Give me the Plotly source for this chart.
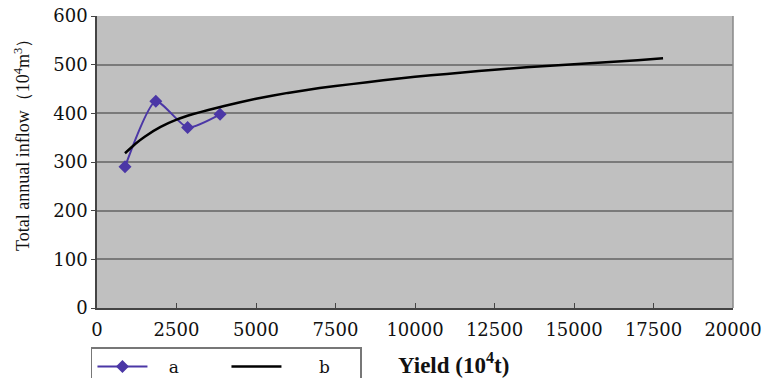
import plotly.graph_objects as go

# Series a: observed points
a_x = [880, 1850, 2850, 3870]
a_y = [290, 425, 371, 398]

# Series b: fitted curve
b_x = [880, 1200, 1500, 2000, 2500, 3000, 3500, 4000, 5000, 6000, 7000, 8000,
       9000, 10000, 11000, 12000, 13000, 14000, 15000, 16000, 17000, 17800]
b_y = [318, 337, 352, 372, 387, 398, 407, 415, 430, 442, 452, 460,
       468, 475, 481, 487, 492, 497, 501, 505, 509, 513]

x_ticks = [0, 2500, 5000, 7500, 10000, 12500, 15000, 17500, 20000]
y_ticks = [0, 100, 200, 300, 400, 500, 600]

SERIF = "DejaVu Serif"
TIMES = "Liberation Serif"

fig = go.Figure()
fig.add_trace(go.Scatter(
    x=a_x, y=a_y, name="   a", mode="lines+markers",
    line=dict(color="#4b37a6", width=2, shape="spline", smoothing=0.6),
    marker=dict(symbol="diamond", size=10, color="#4b37a6"),
))
fig.add_trace(go.Scatter(
    x=b_x, y=b_y, name="      b", mode="lines",
    line=dict(color="#000000", width=2.5, shape="spline", smoothing=0.3),
))

fig.update_layout(
    width=766, height=378,
    margin=dict(l=97, r=33, t=16, b=70, autoexpand=False),
    paper_bgcolor="white",
    plot_bgcolor="#c0c0c0",
    font=dict(family=SERIF, size=17, color="#111111"),
    showlegend=True,
    legend=dict(
        orientation="h", x=-0.0095, y=-0.135, xanchor="left", yanchor="top",
        bordercolor="#777777", borderwidth=1.5, bgcolor="white",
        entrywidth=69, entrywidthmode="pixels", itemwidth=50,
        tracegroupgap=0, valign="middle",
        font=dict(family=SERIF, size=17, color="#111111"),
    ),
    xaxis=dict(
        range=[0, 20000], tickvals=x_ticks, ticktext=[str(v) for v in x_ticks],
        showgrid=False, zeroline=False,
        showline=True, linecolor="#444444", linewidth=1.5, mirror=False,
        ticks="inside", ticklen=5, tickcolor="#444444", ticklabelstandoff=5,
        tickfont=dict(family=SERIF, size=18, color="#111111"),
    ),
    yaxis=dict(
        range=[0, 600], tickvals=y_ticks, ticktext=[str(v) for v in y_ticks],
        showgrid=True, gridcolor="#7a7a7a", gridwidth=1.5, zeroline=False,
        showline=True, linecolor="#444444", linewidth=1.5,
        ticks="outside", ticklen=4, tickcolor="#444444",
        tickfont=dict(family=SERIF, size=18, color="#111111"),
    ),
    shapes=[dict(type="line", xref="paper", yref="paper", x0=1, x1=1, y0=0, y1=1,
                 line=dict(color="#888888", width=1.5))],
    annotations=[
        dict(text="<b>Yield (10<sup>4</sup>t)</b>", xref="paper", yref="paper",
             x=0.56, y=-0.19, xanchor="center", yanchor="middle", showarrow=False,
             font=dict(family=TIMES, size=23, color="#111111")),
        dict(text="Total annual inflow（10<sup>4</sup>m<sup>3</sup>）", xref="paper", yref="paper",
             x=-0.118, y=0.575, xanchor="center", yanchor="middle", textangle=-90,
             showarrow=False,
             font=dict(family=TIMES, size=18, color="#111111")),
    ],
)

fig.write_html("out.html")
